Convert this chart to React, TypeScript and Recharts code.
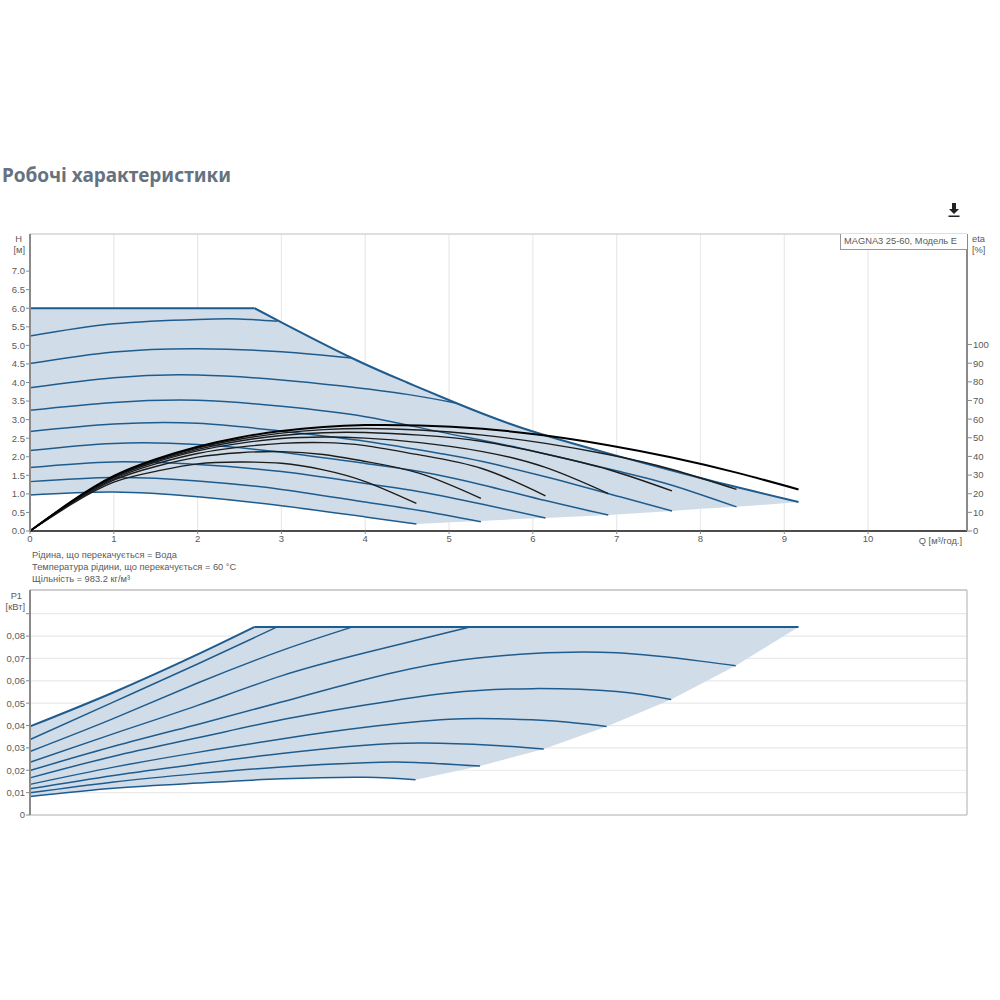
import { Area, CartesianGrid, ComposedChart, Line, ReferenceLine, XAxis, YAxis } from 'recharts';

type Pt = [number, number];

const Q_MAX = 11.18;
const Q_TICKS = [0, 1, 2, 3, 4, 5, 6, 7, 8, 9, 10];
const Q_GRID = [1, 2, 3, 4, 5, 6, 7, 8, 9, 10];
const H_TICKS = [0, 0.5, 1, 1.5, 2, 2.5, 3, 3.5, 4, 4.5, 5, 5.5, 6, 6.5, 7];
const H_GRID = [0.5, 1, 1.5, 2, 2.5, 3, 3.5, 4, 4.5, 5, 5.5, 6, 6.5, 7, 7.5];
const ETA_TICKS = [0, 10, 20, 30, 40, 50, 60, 70, 80, 90, 100];
const P_TICKS = [0, 0.01, 0.02, 0.03, 0.04, 0.05, 0.06, 0.07, 0.08, 0.09];
const P_GRID = [0.01, 0.02, 0.03, 0.04, 0.05, 0.06, 0.07, 0.08, 0.09];
const P_LABELS = ['0', '0,01', '0,02', '0,03', '0,04', '0,05', '0,06', '0,07', '0,08', ''];

const NOTES = [
  'Рідина, що перекачується = Вода',
  'Температура рідини, що перекачується = 60 °C',
  'Щільність = 983.2 кг/м³',
];

// head curves, m
const H_FLAT: Pt[] = [[0, 6], [2.68, 6]];
const H_LIMIT: Pt[] = [[2.68, 6], [3, 5.62], [3.84, 4.66], [4.5, 4.0], [5.09, 3.44], [5.89, 2.76], [6.9, 2.09], [8.01, 1.42], [9.17, 0.78]];
const H_1: Pt[] = [[0, 5.25], [1, 5.58], [2, 5.7], [2.5, 5.71], [2.95, 5.65]];
const H_2: Pt[] = [[0, 4.51], [1, 4.82], [2, 4.91], [3, 4.83], [3.84, 4.66]];
const H_3: Pt[] = [[0, 3.86], [1, 4.13], [2, 4.2], [3, 4.07], [3.7, 3.91], [4.5, 3.68], [5.09, 3.44]];
const H_4: Pt[] = [[0, 3.25], [1, 3.46], [2, 3.52], [3, 3.36], [4, 3.08], [4.89, 2.67], [5.85, 2.23], [7.04, 1.6], [7.68, 1.22], [8.43, 0.65]];
const H_5: Pt[] = [[0, 2.68], [1, 2.88], [2, 2.9], [3, 2.69], [4, 2.42], [4.89, 2.09], [5.4, 1.87], [6.15, 1.46], [7.04, 0.92], [7.66, 0.54]];
const H_6: Pt[] = [[0, 2.17], [1, 2.36], [2, 2.33], [3, 2.12], [4, 1.82], [4.65, 1.6], [5.4, 1.24], [6.15, 0.82], [6.9, 0.43]];
const H_7: Pt[] = [[0, 1.71], [1, 1.86], [2, 1.79], [3, 1.6], [4, 1.28], [4.65, 1.06], [5.4, 0.72], [6.15, 0.35]];
const H_8: Pt[] = [[0, 1.33], [1, 1.44], [2, 1.35], [3, 1.12], [4, 0.78], [4.65, 0.55], [5.38, 0.25]];
const H_9: Pt[] = [[0, 0.97], [1, 1.05], [2, 0.92], [3, 0.68], [4, 0.38], [4.61, 0.19]];
const H_CURVES = [H_1, H_2, H_3, H_4, H_5, H_6, H_7, H_8, H_9];

// shaded band: q, low, high
const H_BAND: [number, number, number][] = [
  [0, 0.97, 6], [0.5, 1.02, 6], [1, 1.05, 6], [1.5, 1.0, 6], [2, 0.92, 6], [2.5, 0.81, 6], [2.68, 0.77, 6],
  [3, 0.68, 5.62], [3.4, 0.57, 5.15], [3.84, 0.43, 4.66], [4.2, 0.32, 4.3], [4.61, 0.19, 3.9],
  [5.09, 0.24, 3.44], [5.38, 0.27, 3.18], [5.89, 0.33, 2.76], [6.15, 0.35, 2.58], [6.9, 0.43, 2.09],
  [7.66, 0.54, 1.62], [8.01, 0.6, 1.42], [8.43, 0.65, 1.18], [9.17, 0.78, 0.78],
];

// efficiency curves, %
const ETA_1: Pt[] = [[0, 0], [0.5, 14.5], [1, 26.2], [1.5, 32], [2, 36], [2.5, 37], [3, 36.3], [3.5, 32.8], [4, 26.5], [4.61, 14.8]];
const ETA_2: Pt[] = [[0, 0], [0.5, 15], [1, 27.3], [1.5, 34.6], [2, 39.6], [2.5, 42], [3, 42.6], [3.5, 41], [4, 37.3], [4.65, 30.9], [5.38, 17.5]];
const ETA_3: Pt[] = [[0, 0], [0.5, 15.4], [1, 28], [1.5, 36], [2, 41.6], [2.5, 45], [3, 47], [3.5, 47.4], [4, 45.8], [4.65, 40.8], [5.4, 33.4], [6.15, 18.9]];
const ETA_4: Pt[] = [[0, 0], [0.5, 15.6], [1, 28.6], [1.5, 37], [2, 43], [2.5, 47], [3, 49.6], [3.5, 50.4], [4, 49.8], [4.65, 47.4], [5.4, 42.6], [6.15, 34.1], [6.9, 20.1]];
const ETA_5: Pt[] = [[0, 0], [0.5, 15.8], [1, 29], [1.5, 37.6], [2, 43.8], [2.5, 48.3], [3, 51.2], [3.5, 52.7], [4, 52.8], [4.65, 51.4], [5.4, 48], [6.15, 41.3], [6.9, 33], [7.66, 21.5]];
const ETA_6: Pt[] = [[0, 0], [0.5, 15.9], [1, 29.3], [1.5, 38], [2, 44.5], [2.5, 49.2], [3, 52.5], [3.5, 54.4], [4, 55], [4.65, 54.2], [5.4, 51.4], [6.15, 47], [6.9, 41], [7.66, 33], [8.43, 22.3]];
const ETA_7: Pt[] = [[0, 0], [0.5, 16], [1, 29.5], [1.5, 38.5], [2, 45.2], [2.5, 50.2], [3, 53.6], [3.5, 55.8], [4, 56.8], [4.65, 56.6], [5.4, 54.8], [6.15, 51.2], [6.9, 46], [7.66, 39.4], [8.43, 31.3], [9.17, 22.3]];
const ETA_CURVES = [ETA_1, ETA_2, ETA_3, ETA_4, ETA_5, ETA_6];

// power curves, kW
const P_LIMIT: Pt[] = [[0, 0.0396], [1, 0.0549], [2, 0.0718], [2.68, 0.0841]];
const P_FLAT: Pt[] = [[2.68, 0.0841], [9.17, 0.0841]];
const P_1: Pt[] = [[0, 0.0337], [1, 0.0506], [2, 0.0675], [2.95, 0.0841]];
const P_2: Pt[] = [[0, 0.0284], [1, 0.0432], [2, 0.059], [3, 0.0735], [3.85, 0.0841]];
const P_3: Pt[] = [[0, 0.0236], [1, 0.0364], [2, 0.049], [3, 0.0622], [4, 0.0725], [5.25, 0.0841]];
const P_4: Pt[] = [[0, 0.0199], [1, 0.0307], [2, 0.0405], [3, 0.0505], [4, 0.0606], [5, 0.0685], [6, 0.0722], [7, 0.0725], [8, 0.0688], [8.42, 0.0667]];
const P_5: Pt[] = [[0, 0.0166], [1, 0.0263], [2, 0.0345], [3, 0.0426], [4, 0.0492], [5, 0.0546], [6, 0.0565], [7, 0.0552], [7.65, 0.0516]];
const P_6: Pt[] = [[0, 0.0137], [1, 0.0214], [2, 0.028], [3, 0.034], [4, 0.0392], [5, 0.0428], [5.6, 0.043], [6.2, 0.0421], [6.88, 0.0396]];
const P_7: Pt[] = [[0, 0.0117], [1, 0.0177], [2, 0.0228], [3, 0.0275], [4, 0.0312], [4.7, 0.0322], [5.5, 0.0312], [6.13, 0.0295]];
const P_8: Pt[] = [[0, 0.0099], [1, 0.0148], [2, 0.0185], [3, 0.0215], [4, 0.0234], [4.6, 0.0235], [5.37, 0.0219]];
const P_9: Pt[] = [[0, 0.0083], [1, 0.012], [2, 0.0143], [3, 0.0162], [4, 0.0169], [4.6, 0.0158]];
const P_CURVES = [P_1, P_2, P_3, P_4, P_5, P_6, P_7, P_8, P_9];

const P_BAND: [number, number, number][] = [
  [0, 0.0083, 0.0396], [0.5, 0.0103, 0.0469], [1, 0.012, 0.0549], [1.5, 0.0133, 0.0632], [2, 0.0143, 0.0718], [2.68, 0.0156, 0.0841],
  [3, 0.0162, 0.0841], [3.5, 0.0167, 0.0841], [4, 0.0169, 0.0841], [4.3, 0.0166, 0.0841], [4.6, 0.0158, 0.0841], [5.37, 0.0219, 0.0841],
  [6.13, 0.0295, 0.0841], [6.88, 0.0396, 0.0841], [7.65, 0.0516, 0.0841], [8.42, 0.0667, 0.0841], [9.17, 0.0841, 0.0841],
];

const BLUE = '#1f5c8e';
const FILL = '#d0dde9';
const GRID = '#e9e9e9';
const TEXT = '#5a5a5a';
const FONT = '"Liberation Sans", Arial, sans-serif';
const TICK = { fontSize: 9.5, fill: TEXT, fontFamily: FONT };

const rows = (pts: Pt[]) => pts.map(([q, v]) => ({ q, v }));
const band = (pts: [number, number, number][]) => pts.map(([q, low, high]) => ({ q, range: [low, high] }));

function Caption({ x, y, children, align }: { x: number; y: number; children: React.ReactNode; align?: 'right' }) {
  return (
    <div
      style={{
        position: 'absolute',
        top: y,
        left: align ? undefined : x,
        right: align ? 1000 - x : undefined,
        font: `9.3px ${FONT}`,
        color: TEXT,
        whiteSpace: 'nowrap',
        lineHeight: '11px',
        textAlign: align ?? 'left',
      }}
    >
      {children}
    </div>
  );
}

function HeadChart() {
  return (
    <div style={{ position: 'absolute', left: 0, top: 220 }}>
      <ComposedChart width={1000} height={340} margin={{ top: 14, right: 0, bottom: 0, left: 0 }}>
        <CartesianGrid stroke={GRID} strokeWidth={1.2} horizontalValues={H_GRID} verticalValues={Q_GRID} />
        <XAxis
          type="number"
          dataKey="q"
          domain={[0, Q_MAX]}
          ticks={Q_TICKS}
          interval={0}
          height={29}
          tick={TICK}
          tickSize={3}
          tickMargin={1}
          axisLine={{ stroke: '#111', strokeWidth: 1.5 }}
          tickLine={{ stroke: '#888' }}
        />
        <YAxis
          yAxisId="h"
          type="number"
          domain={[0, 8]}
          ticks={H_TICKS}
          interval={0}
          width={30}
          tick={TICK}
          tickSize={4}
          tickMargin={1}
          tickFormatter={(v: number) => v.toFixed(1)}
          axisLine={{ stroke: '#8a8a8a', strokeWidth: 2 }}
          tickLine={{ stroke: '#888' }}
        />
        <YAxis
          yAxisId="eta"
          orientation="right"
          type="number"
          domain={[0, 159.3]}
          ticks={ETA_TICKS}
          interval={0}
          width={33}
          tick={TICK}
          tickSize={5}
          tickMargin={1}
          axisLine={{ stroke: '#8a8a8a', strokeWidth: 2 }}
          tickLine={{ stroke: '#888' }}
        />
        <ReferenceLine yAxisId="h" y={8} stroke="#d4d4d4" strokeWidth={1.5} />
        <Area yAxisId="h" data={band(H_BAND)} dataKey="range" type="linear" fill={FILL} fillOpacity={1} stroke="none" dot={false} isAnimationActive={false} />
        {H_CURVES.map((pts, i) => (
          <Line key={i} yAxisId="h" data={rows(pts)} dataKey="v" type="natural" stroke={BLUE} strokeWidth={1.5} dot={false} isAnimationActive={false} />
        ))}
        <Line yAxisId="h" data={rows(H_FLAT)} dataKey="v" type="linear" stroke={BLUE} strokeWidth={2} dot={false} isAnimationActive={false} />
        <Line yAxisId="h" data={rows(H_LIMIT)} dataKey="v" type="natural" stroke={BLUE} strokeWidth={2} dot={false} isAnimationActive={false} />
        {ETA_CURVES.map((pts, i) => (
          <Line key={i} yAxisId="eta" data={rows(pts)} dataKey="v" type="natural" stroke="#1c1c1c" strokeWidth={1.4} dot={false} isAnimationActive={false} />
        ))}
        <Line yAxisId="eta" data={rows(ETA_7)} dataKey="v" type="natural" stroke="#000" strokeWidth={2} dot={false} isAnimationActive={false} />
      </ComposedChart>
    </div>
  );
}

function PowerChart() {
  return (
    <div style={{ position: 'absolute', left: 0, top: 580 }}>
      <ComposedChart width={1000} height={240} margin={{ top: 10, right: 33, bottom: 0, left: 0 }}>
        <CartesianGrid stroke={GRID} strokeWidth={1.2} horizontalValues={P_GRID} verticalValues={Q_GRID} />
        <XAxis
          type="number"
          dataKey="q"
          domain={[0, Q_MAX]}
          ticks={Q_TICKS}
          interval={0}
          height={5}
          tick={false}
          tickLine={false}
          axisLine={{ stroke: '#c8c8c8', strokeWidth: 1.5 }}
        />
        <YAxis
          type="number"
          domain={[0, 0.1006]}
          ticks={P_TICKS}
          interval={0}
          width={30}
          tick={TICK}
          tickSize={4}
          tickMargin={1}
          tickFormatter={(v: number) => P_LABELS[P_TICKS.indexOf(v)]}
          axisLine={{ stroke: '#8a8a8a', strokeWidth: 2 }}
          tickLine={{ stroke: '#888' }}
        />
        <ReferenceLine y={0.1006} stroke="#a0a0a0" strokeWidth={1.2} />
        <ReferenceLine x={Q_MAX} stroke="#c8c8c8" strokeWidth={1.5} />
        <Area data={band(P_BAND)} dataKey="range" type="linear" fill={FILL} fillOpacity={1} stroke="none" dot={false} isAnimationActive={false} />
        {P_CURVES.map((pts, i) => (
          <Line key={i} data={rows(pts)} dataKey="v" type="natural" stroke={BLUE} strokeWidth={1.5} dot={false} isAnimationActive={false} />
        ))}
        <Line data={rows(P_LIMIT)} dataKey="v" type="natural" stroke={BLUE} strokeWidth={2} dot={false} isAnimationActive={false} />
        <Line data={rows(P_FLAT)} dataKey="v" type="linear" stroke={BLUE} strokeWidth={2} dot={false} isAnimationActive={false} />
      </ComposedChart>
    </div>
  );
}

export default function App() {
  return (
    <div style={{ position: 'absolute', left: 0, top: 0, width: 1000, height: 1000, background: '#fff', overflow: 'hidden' }}>
      <div
        style={{
          position: 'absolute',
          left: 2,
          top: 162,
          font: 'bold 19px "Noto Sans", sans-serif',
          color: '#667280',
          whiteSpace: 'nowrap',
        }}
      >
        Робочі характеристики
      </div>
      <svg style={{ position: 'absolute', left: 946, top: 202 }} width={16} height={16} viewBox="0 0 16 16">
        <path d="M6 1h4v6h3l-5 5-5-5h3z M2.500 13.500h11v1.500h-11z" fill="#222" />
      </svg>

      <HeadChart />
      <PowerChart />

      <div
        style={{
          position: 'absolute',
          left: 840,
          top: 234,
          width: 127,
          height: 16,
          boxSizing: 'border-box',
          background: '#fff',
          borderLeft: '1px solid #999',
          borderBottom: '1px solid #999',
          font: `9.3px ${FONT}`,
          color: TEXT,
          lineHeight: '14px',
          paddingLeft: 3,
          whiteSpace: 'nowrap',
        }}
      >
        MAGNA3 25-60, Модель E
      </div>

      <Caption x={22} y={234} align="right">H</Caption>
      <Caption x={25} y={245} align="right">[м]</Caption>
      <Caption x={972} y={234}>eta</Caption>
      <Caption x={972} y={245}>[%]</Caption>
      <Caption x={962} y={536} align="right">Q [м³/год.]</Caption>
      <Caption x={22} y={591} align="right">P1</Caption>
      <Caption x={25} y={602} align="right">[кВт]</Caption>

      {NOTES.map((note, i) => (
        <Caption key={note} x={32} y={550 + i * 12}>{note}</Caption>
      ))}
    </div>
  );
}
